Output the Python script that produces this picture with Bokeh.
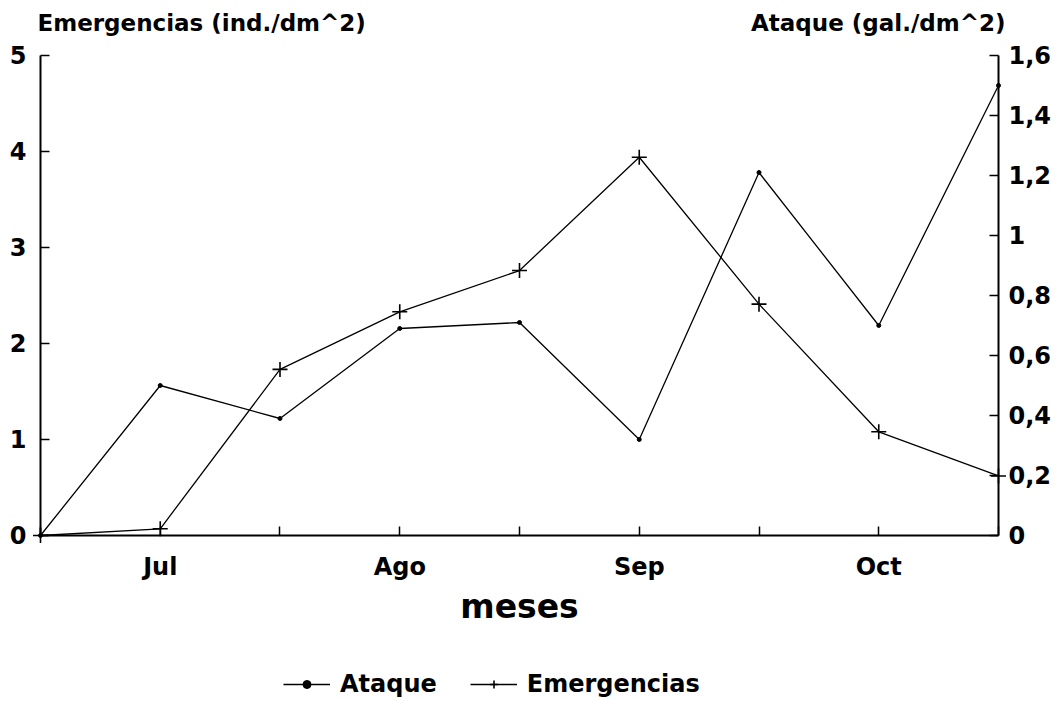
from bokeh.plotting import figure
from bokeh.models import Range1d, LinearAxis, FixedTicker, Label, Legend, LegendItem
from bokeh.embed import file_html
from bokeh.resources import INLINE

# half-month sampling index along the x axis
periods = [0, 1, 2, 3, 4, 5, 6, 7, 8]
month_pos = [1, 3, 5, 7]
month_labels = ["Jul", "Ago", "Sep", "Oct"]

emergencias = [0.0, 0.07, 1.73, 2.33, 2.76, 3.94, 2.41, 1.08, 0.62]   # ind./dm^2 (left axis)
ataque = [0.0, 0.50, 0.39, 0.69, 0.71, 0.32, 1.21, 0.70, 1.50]        # gal./dm^2 (right axis)

left_ticks = [0, 1, 2, 3, 4, 5]
right_ticks = [0, 0.2, 0.4, 0.6, 0.8, 1.0, 1.2, 1.4, 1.6]
right_tick_labels = ["0", "0,2", "0,4", "0,6", "0,8", "1", "1,2", "1,4", "1,6"]

FONT = "DejaVu Sans"
W, H = 1054, 700

# the frame fills the whole figure; axes are pinned inside it with fixed_location
p = figure(width=W, height=H, output_backend="svg", toolbar_location=None,
           x_range=Range1d(-0.3340, 8.4676), y_range=Range1d(-1.71875, 5.5729),
           x_axis_location=None, y_axis_location=None,
           min_border=0, min_border_left=0, min_border_right=0,
           min_border_top=0, min_border_bottom=0)
p.extra_y_ranges = {"right": Range1d(-0.55, 1.78333)}
p.outline_line_color = None
p.background_fill_color = "white"
p.border_fill_color = "white"
p.grid.visible = False


def style(ax, size, standoff):
    ax.axis_line_width = 2
    ax.axis_line_color = "black"
    ax.major_tick_in = 9
    ax.major_tick_out = 0
    ax.major_tick_line_width = 1.5
    ax.major_tick_line_color = "black"
    ax.minor_tick_line_color = None
    ax.major_label_text_font = FONT
    ax.major_label_text_font_style = "bold"
    ax.major_label_text_font_size = f"{size}px"
    ax.major_label_text_color = "black"
    ax.major_label_standoff = standoff


overrides = {i: "" for i in periods}
overrides.update(dict(zip(month_pos, month_labels)))
xaxis = LinearAxis(ticker=FixedTicker(ticks=periods), major_label_overrides=overrides,
                   fixed_location=0, bounds=(periods[0], periods[-1]))
style(xaxis, 24, 18)
xaxis.axis_label = "meses"
xaxis.axis_label_text_font = FONT
xaxis.axis_label_text_font_style = "bold"
xaxis.axis_label_text_font_size = "33px"
xaxis.axis_label_text_color = "black"
xaxis.axis_label_standoff = 2
p.add_layout(xaxis, "below")

yaxis = LinearAxis(ticker=FixedTicker(ticks=left_ticks), fixed_location=periods[0],
                   bounds=(left_ticks[0], left_ticks[-1]))
style(yaxis, 24, 14)
p.add_layout(yaxis, "left")

raxis = LinearAxis(y_range_name="right", ticker=FixedTicker(ticks=right_ticks),
                   major_label_overrides=dict(zip(right_ticks, right_tick_labels)),
                   fixed_location=periods[-1], bounds=(right_ticks[0], right_ticks[-1]))
style(raxis, 24, 10)
p.add_layout(raxis, "right")

la = p.line(periods, ataque, y_range_name="right", line_color="black", line_width=1.3)
sa = p.scatter(periods, ataque, y_range_name="right", marker="circle", size=4,
               fill_color="black", line_color="black")
le = p.line(periods, emergencias, line_color="black", line_width=1.3)
se = p.scatter(periods, emergencias, marker="cross", size=15, line_color="black", line_width=1.6)

p.add_layout(Label(x=periods[0], y=5.34, text="Emergencias (ind./dm^2)", text_align="left",
                   text_baseline="middle", x_offset=-3, text_font=FONT,
                   text_font_style="bold", text_font_size="23px", text_color="black"))
p.add_layout(Label(x=periods[-1], y=5.34, text="Ataque (gal./dm^2)", text_align="right",
                   text_baseline="middle", x_offset=7, text_font=FONT,
                   text_font_style="bold", text_font_size="23px", text_color="black"))

legend = Legend(items=[LegendItem(label="Ataque", renderers=[la, sa]),
                       LegendItem(label="Emergencias", renderers=[le, se])],
                orientation="horizontal", location=(283, 2),
                border_line_color=None, background_fill_alpha=0,
                label_text_font=FONT, label_text_font_style="bold",
                label_text_font_size="24px", label_text_color="black",
                glyph_width=47, glyph_height=20, label_standoff=10,
                spacing=33, padding=0, margin=0)
p.add_layout(legend)

open("out.html", "w").write(file_html(p, INLINE))
